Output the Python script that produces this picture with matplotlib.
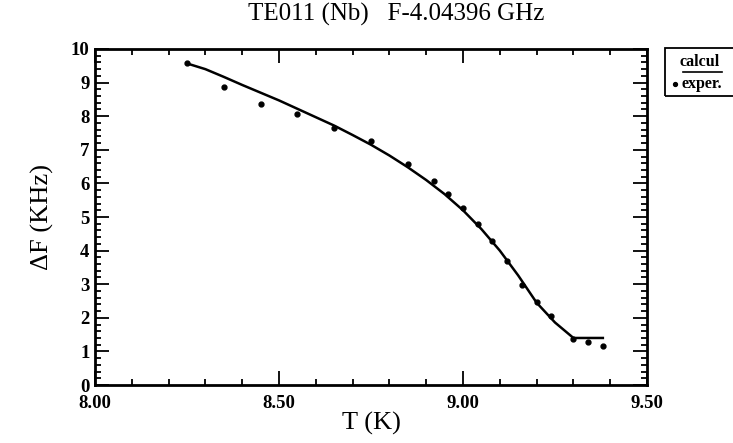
import numpy as np
import matplotlib.pyplot as plt
from matplotlib.ticker import MultipleLocator, FormatStrFormatter
from matplotlib.lines import Line2D
from matplotlib.patches import Rectangle

plt.rcParams['font.family'] = ['Liberation Serif', 'DejaVu Serif']

# experimental points
t_exp = [8.25, 8.35, 8.45, 8.55, 8.65, 8.75, 8.85, 8.92, 8.96, 9.00,
         9.04, 9.08, 9.12, 9.16, 9.20, 9.24, 9.30, 9.34, 9.38]
df_exp = [9.57, 8.88, 8.36, 8.06, 7.66, 7.27, 6.57, 6.07, 5.68, 5.28,
          4.80, 4.29, 3.69, 2.98, 2.47, 2.06, 1.36, 1.27, 1.16]

# calculated curve
t_calc = [8.25, 8.30, 8.35, 8.40, 8.45, 8.50, 8.55, 8.60, 8.65, 8.70,
          8.75, 8.80, 8.85, 8.90, 8.95, 9.00, 9.05, 9.10, 9.15, 9.20,
          9.25, 9.30, 9.38]
df_calc = [9.57, 9.40, 9.17, 8.93, 8.70, 8.47, 8.22, 7.97, 7.72, 7.44,
           7.15, 6.83, 6.48, 6.10, 5.68, 5.20, 4.64, 4.00, 3.26, 2.45,
           1.86, 1.40, 1.40]

fig = plt.figure(figsize=(7.33, 4.43), dpi=100)
ax = fig.add_axes([0.1296, 0.1309, 0.7531, 0.7585])

ax.plot(t_calc, df_calc, color='black', lw=1.8)
ax.plot(t_exp, df_exp, 'o', color='black', ms=3.5)

ax.set_xlim(8.0, 9.5)
ax.set_ylim(0, 10)
ax.xaxis.set_major_locator(MultipleLocator(0.5))
ax.xaxis.set_minor_locator(MultipleLocator(0.1))
ax.yaxis.set_major_locator(MultipleLocator(1))
ax.yaxis.set_minor_locator(MultipleLocator(0.2))
ax.xaxis.set_major_formatter(FormatStrFormatter('%.2f'))

ax.tick_params(which='both', direction='in', top=True, right=True,
               width=1.3, labelsize=13.5, colors='black')
ax.tick_params(which='major', length=10)
ax.tick_params(which='minor', length=4)
ax.tick_params(axis='x', pad=7)
ax.tick_params(axis='y', pad=4)
for lab in ax.get_xticklabels() + ax.get_yticklabels():
    lab.set_fontweight('bold')
for s in ax.spines.values():
    s.set_linewidth(2)

ax.set_xlabel('T (K)', fontsize=19, labelpad=0)
ax.set_ylabel('ΔF (KHz)', fontsize=19, labelpad=12)
fig.text(0.541, 0.968, 'TE011 (Nb)   F-4.04396 GHz', ha='center', va='center',
         fontsize=18)

# legend drawn like the original: label with line under it, then dot + label
fig.patches.append(Rectangle((665/733, 1 - 96/443), 80/733, 48/443,
                             transform=fig.transFigure, fill=False,
                             lw=1.3, ec='black'))
fig.text(700/733, 1 - 62/443, 'calcul', ha='center', va='center',
         fontsize=11.5, fontweight='bold')
fig.lines.append(Line2D([683/733, 722/733], [1 - 72/443, 1 - 72/443],
                        transform=fig.transFigure, color='black', lw=1.2))
fig.lines.append(Line2D([675/733], [1 - 84/443], transform=fig.transFigure,
                        marker='o', ms=2.8, color='black', ls=''))
fig.text(682/733, 1 - 84/443, 'exper.', ha='left', va='center',
         fontsize=11.5, fontweight='bold')

fig.savefig('out.png', dpi=100)
